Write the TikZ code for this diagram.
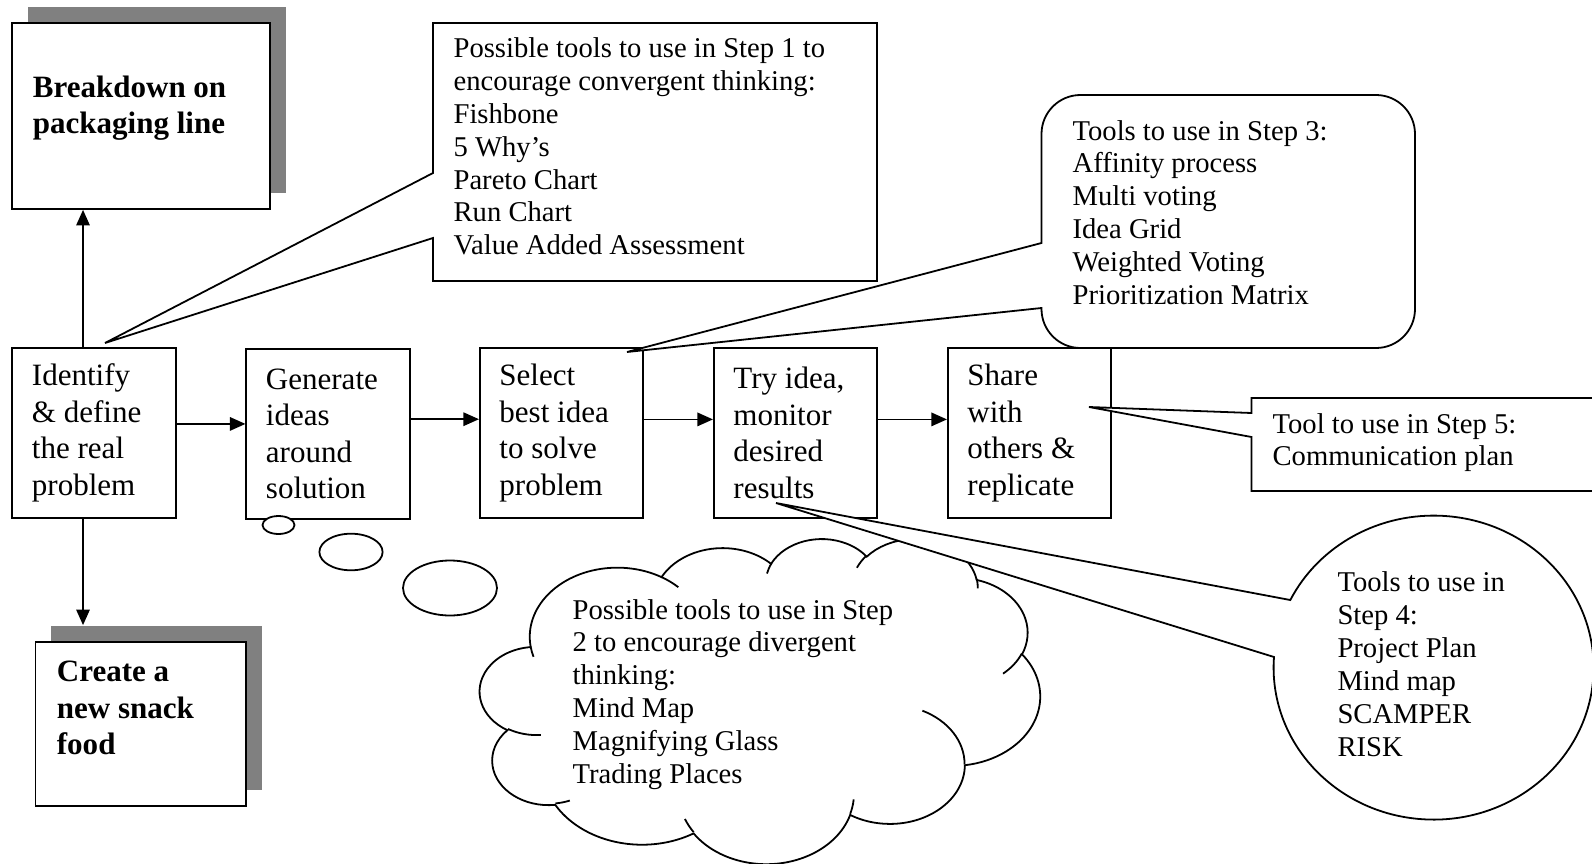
\documentclass[tikz,border=0pt]{standalone}
\usepackage{fontspec}
\setmainfont{Liberation Serif}
\usetikzlibrary{arrows.meta}

\begin{document}
\begin{tikzpicture}[x=0.419pt, y=-0.419pt, line width=0.75pt,
  every node/.style={execute at begin node={\spaceskip=0pt\xspaceskip=0pt\relax}},
  flowbox/.style={draw, fill=white, minimum height=71.2pt, text width=52pt, inner xsep=8.2pt, inner ysep=0pt, align=left, font=\fontsize{13}{15.3}\selectfont},
  panel/.style={draw, fill=white, inner sep=0pt},
  shadowbox/.style={fill=black!50, inner sep=0pt},
  boldtext/.style={anchor=base west, inner sep=0pt, text width=110pt, align=left, font=\fontsize{13}{15.3}\selectfont\bfseries},
  tooltext/.style={anchor=base west, inner sep=0pt, text width=200pt, align=left, font=\fontsize{12}{13.8}\selectfont},
  bubble/.style={draw, fill=white},
  arr/.style={-{Triangle[length=6.5pt, width=5.6pt]}},
  puff/.style n args={4}{x radius=#1, y radius=#2,
    start angle={atan2(#1*sin(#3),#2*cos(#3))},
    delta angle={mod(atan2(#1*sin(#3+#4),#2*cos(#3+#4))-atan2(#1*sin(#3),#2*cos(#3))+720,360)}}]
\useasboundingbox (0,0) rectangle (1592,864);

\node (brk shadow) [shadowbox, minimum width=108.1pt, minimum height=77.9pt] at (157,100) {};
\node (brk) [panel, minimum width=108.1pt, minimum height=77.9pt] at (141,116) {};
\node (crt shadow) [shadowbox, minimum width=88.2pt, minimum height=68.7pt] at (156.7,708) {};
\node (crt) [panel, minimum width=88.2pt, minimum height=68.7pt] at (140.7,724) {};
\node (brk text) [boldtext] at (32,97) {Breakdown on\\packaging line};
\node (crt text) [boldtext] at (56,681.7) {Create a\\new snack\\food};

\node (ident) [flowbox] at (94,433) {Identify\\\& define\\the real\\problem};
\node (gen) [flowbox] at (328,434) {Generate\\ideas\\around\\solution};
\node (sel) [flowbox] at (561.5,433) {Select\\best idea\\to solve\\problem};
\node (try) [flowbox] at (795.5,433) {Try idea,\\monitor\\desired\\results};
\node (share) [flowbox] at (1029.5,433) {Share\\with\\others \&\\replicate};

\draw [arr] ([yshift=3.8pt]ident.east) -- ([yshift=3.8pt]ident.east -| gen.west);
\draw [arr] ([yshift=6.2pt]gen.east) -- ([yshift=6.2pt]gen.east -| sel.west);
\draw [arr] ([yshift=5.7pt]sel.east) -- ([yshift=5.7pt]sel.east -| try.west);
\draw [arr] ([yshift=5.7pt]try.east) -- ([yshift=5.7pt]try.east -| share.west);
\draw [arr] ([xshift=-4.6pt]ident.north) -- ([xshift=-4.6pt]ident.north |- brk.south);
\draw [arr] ([xshift=-4.6pt]ident.south) -- ([xshift=-4.6pt]ident.south |- crt shadow.north);

\coordinate (tip1) at (105,343);
\coordinate (tip3) at (627,352);
\coordinate (tip4) at (776,503);
\coordinate (tip5) at (1089,407);

\draw [bubble] (278.5,525) ellipse [x radius=16, y radius=9];
\draw [bubble] (351,552) ellipse [x radius=31.6, y radius=18.3];
\draw [bubble] (450,588) ellipse [x radius=47, y radius=27.5];

\begin{scope}[shift={(480,538)}, x=5.4315pt, y=-3.1522pt]
\draw [bubble] (3.9,14.37)
  arc [puff={6.753}{9.190}{-190.4875}{123.7805}]
  arc [puff={5.333}{7.267}{-144.1024}{89.9452}]
  arc [puff={4.365}{5.945}{-145.8079}{99.7230}]
  arc [puff={4.857}{6.595}{-130.9861}{117.2417}]
  arc [puff={5.333}{7.273}{-78.7089}{109.0269}]
  arc [puff={6.775}{9.220}{-46.2673}{130.2690}]
  arc [puff={5.785}{7.867}{0.6250}{114.0333}]
  arc [puff={6.752}{9.215}{22.4516}{115.1726}]
  arc [puff={7.720}{10.543}{66.2426}{75.7110}]
  arc [puff={4.360}{5.918}{-274.9421}{146.7356}]
  arc [puff={4.345}{5.945}{-246.8285}{152.5189}] -- cycle;
\draw (4.693,26.177) arc [puff={4.345}{5.945}{86.7420}{26.4295}]
  (6.928,34.899) arc [puff={4.360}{5.918}{73.6105}{11.4475}]
  (16.478,39.090) arc [puff={6.752}{9.215}{137.6242}{14.0811}]
  (28.827,34.751) arc [puff={6.752}{9.215}{6.4533}{15.9984}]
  (34.129,22.954) arc [puff={5.785}{7.867}{-70.2924}{70.9174}]
  (41.798,15.354) arc [puff={5.333}{7.273}{30.3180}{27.7515}]
  (38.324,5.426) arc [puff={4.857}{6.595}{-13.7443}{14.8589}]
  (29.078,3.952) arc [puff={4.857}{6.595}{-149.1815}{18.1954}]
  (22.141,4.720) arc [puff={4.365}{5.945}{-163.4943}{17.6864}]
  (14.000,5.192) arc [puff={6.753}{9.190}{-66.7070}{12.3194}]
  (4.127,15.789) arc [puff={6.753}{9.190}{157.6544}{11.8582}];
\end{scope}
\node (step2 text) [tooltext] at (571.7,619) {Possible tools to use in Step\\2 to encourage divergent\\thinking:\\Mind Map\\Magnifying Glass\\Trading Places};

\draw [bubble] (tip1) -- (433,238) -- (433,281) -- (877,281) -- (877,23) -- (433,23) -- (433,173) -- cycle;
\node (step1 text) [tooltext] at (452.7,57.3) {Possible tools to use in Step 1 to\\encourage convergent thinking:\\Fishbone\\5 Why’s\\Pareto Chart\\Run Chart\\Value Added Assessment};

\draw [bubble] (tip3) -- (1041.5,308) -- (1041.5,309) arc [start angle=180, end angle=90, radius=39]
  -- (1376,348) arc [start angle=90, end angle=0, radius=39]
  -- (1415,134) arc [start angle=0, end angle=-90, radius=39]
  -- (1080.5,95) arc [start angle=-90, end angle=-180, radius=39]
  -- (1041.5,243) -- cycle;
\node (step3 text) [tooltext] at (1071.7,140) {Tools to use in Step 3:\\Affinity process\\Multi voting\\Idea Grid\\Weighted Voting\\Prioritization Matrix};

\draw [bubble] (tip5) -- (1251.5,437) -- (1251.5,491) -- (1640,491) -- (1640,398) -- (1251.5,398) -- (1251.5,413) -- cycle;
\node (step5 text) [tooltext] at (1271.7,433) {Tool to use in Step 5:\\Communication plan};

\draw [bubble] (tip4) -- (1274,657) arc [start angle=184, end angle=-153.6, x radius=160, y radius=152] -- cycle;
\node (step4 text) [tooltext] at (1336.6,591.7) {Tools to use in\\Step 4:\\Project Plan\\Mind map\\SCAMPER\\RISK};
\end{tikzpicture}
\end{document}
